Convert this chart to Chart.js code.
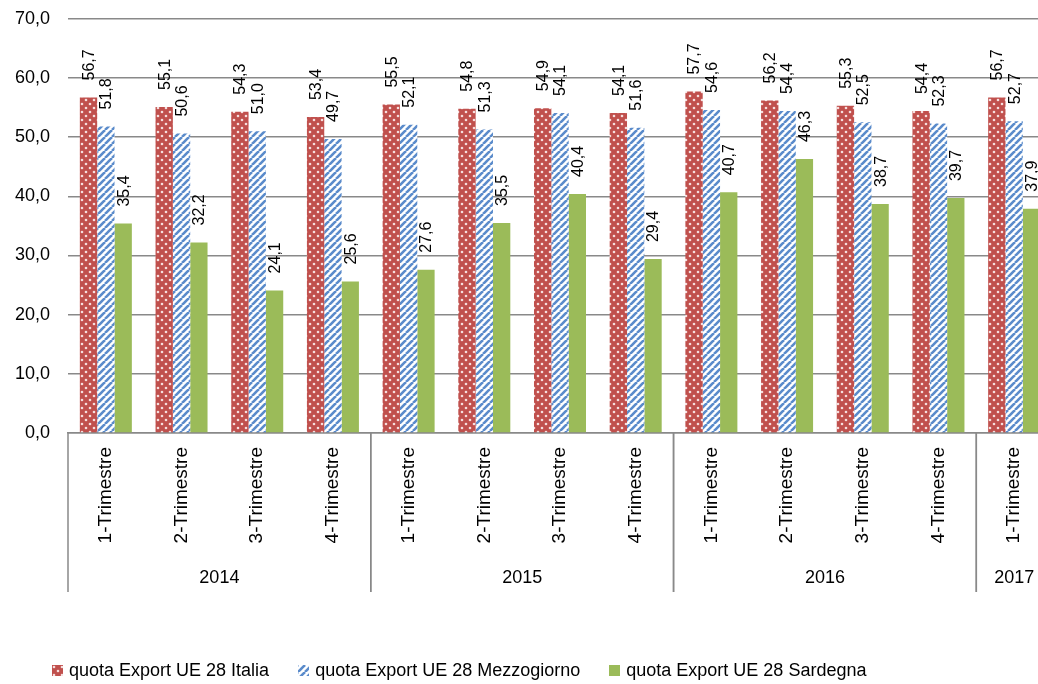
<!DOCTYPE html>
<html>
<head>
<meta charset="utf-8">
<script src="https://cdn.jsdelivr.net/npm/chart.js@4.4.0/dist/chart.umd.min.js"></script>
<style>
html, body { margin: 0; padding: 0; background: #fff; overflow: hidden; }
#wrap { position: relative; width: 1038px; height: 684px; overflow: hidden; }
#c { position: absolute; left: 0; top: -10px; }
#legend { position: absolute; left: 52px; top: 660px; display: flex; align-items: center;
  font: 18px "Liberation Sans", Arial, sans-serif; color: #000; white-space: nowrap; }
#legend .item { display: flex; align-items: center; margin-right: 29px; }
#legend canvas { width: 11px; height: 11px; margin-right: 6px; }
</style>
</head>
<body>
<div id="wrap">
  <canvas id="c" width="1056" height="694"></canvas>
  <div id="legend"></div>
</div>
<script>
// data
const categories = [
  '1-Trimestre', '2-Trimestre', '3-Trimestre', '4-Trimestre',
  '1-Trimestre', '2-Trimestre', '3-Trimestre', '4-Trimestre',
  '1-Trimestre', '2-Trimestre', '3-Trimestre', '4-Trimestre',
  '1-Trimestre'
];
const years = ['2014', '2015', '2016', '2017'];
const quartersPerYear = [4, 4, 4, 1];
const italia      = [56.7, 55.1, 54.3, 53.4, 55.5, 54.8, 54.9, 54.1, 57.7, 56.2, 55.3, 54.4, 56.7];
const mezzogiorno = [51.8, 50.6, 51.0, 49.7, 52.1, 51.3, 54.1, 51.6, 54.6, 54.4, 52.5, 52.3, 52.7];
const sardegna    = [35.4, 32.2, 24.1, 25.6, 27.6, 35.5, 40.4, 29.4, 40.7, 46.3, 38.7, 39.7, 37.9];
const seriesNames = ['quota Export UE 28 Italia', 'quota Export UE 28 Mezzogiorno', 'quota Export UE 28 Sardegna'];
const yTicks = [0, 10, 20, 30, 40, 50, 60, 70];

const FONT = '"Liberation Sans", Arial, sans-serif';
const GRID = '#898989';
const fmt = v => Number(v).toFixed(1).replace('.', ',');

function dotPattern() {
  const c = document.createElement('canvas'); c.width = 8; c.height = 8;
  const g = c.getContext('2d');
  g.fillStyle = '#C0504D'; g.fillRect(0, 0, 8, 8);
  g.fillStyle = '#f6dede';
  [[2, 2], [6, 6]].forEach(([x, y]) => { g.beginPath(); g.arc(x, y, 1.3, 0, Math.PI * 2); g.fill(); });
  return g.createPattern(c, 'repeat');
}
function stripePattern() {
  const c = document.createElement('canvas'); c.width = 7; c.height = 7;
  const g = c.getContext('2d');
  g.fillStyle = '#ffffff'; g.fillRect(0, 0, 7, 7);
  g.strokeStyle = '#5A8BCB'; g.lineWidth = 2.6;
  for (let k = -1; k <= 1; k++) { g.beginPath(); g.moveTo(k * 7, 7); g.lineTo(k * 7 + 7, 0); g.stroke(); }
  return g.createPattern(c, 'repeat');
}
const fills = [dotPattern(), stripePattern(), '#9BBB59'];

// value labels, rotated, above each bar
const valueLabels = {
  id: 'valueLabels',
  afterDatasetsDraw(chart) {
    const ctx = chart.ctx;
    ctx.save();
    ctx.fillStyle = '#000';
    ctx.font = '16px ' + FONT;
    ctx.textAlign = 'left';
    ctx.textBaseline = 'middle';
    chart.data.datasets.forEach((ds, di) => {
      chart.getDatasetMeta(di).data.forEach((bar, i) => {
        ctx.save();
        ctx.translate(bar.x + 1, bar.y - 17);
        ctx.rotate(-Math.PI / 2);
        ctx.fillText(fmt(ds.data[i]), 0, 0);
        ctx.restore();
      });
    });
    ctx.restore();
  }
};

// year groups under the quarter labels
const yearGroups = {
  id: 'yearGroups',
  afterDraw(chart) {
    const ctx = chart.ctx, x = chart.scales.x, area = chart.chartArea;
    const half = (x.getPixelForValue(1) - x.getPixelForValue(0)) / 2;
    const top = area.bottom, bottom = area.bottom + 159;
    ctx.save();
    ctx.strokeStyle = GRID; ctx.lineWidth = 1.5;
    ctx.fillStyle = '#000'; ctx.font = '18px ' + FONT;
    ctx.textAlign = 'center'; ctx.textBaseline = 'middle';
    let start = 0;
    years.forEach((yr, k) => {
      const end = start + quartersPerYear[k] - 1;
      const x0 = x.getPixelForValue(start) - half, x1 = x.getPixelForValue(end) + half;
      [x0, x1].forEach(px => { ctx.beginPath(); ctx.moveTo(px, top); ctx.lineTo(px, bottom); ctx.stroke(); });
      ctx.fillText(yr, (x0 + x1) / 2, area.bottom + 145);
      start = end + 1;
    });
    ctx.restore();
  }
};

new Chart(document.getElementById('c'), {
  type: 'bar',
  data: {
    labels: categories,
    datasets: [italia, mezzogiorno, sardegna].map((d, i) => ({
      label: seriesNames[i], data: d, backgroundColor: fills[i], borderWidth: 0
    }))
  },
  options: {
    responsive: false, animation: false, devicePixelRatio: 1,
    layout: { padding: { top: 8, right: 4, left: 0, bottom: 0 } },
    datasets: { bar: { categoryPercentage: 0.687, barPercentage: 1 } },
    plugins: { legend: { display: false }, tooltip: { enabled: false } },
    scales: {
      x: {
        grid: { display: false, drawTicks: false },
        border: { display: true, color: GRID, width: 1.5 },
        ticks: { autoSkip: false, minRotation: 90, maxRotation: 90, padding: 14, color: '#000', font: { family: FONT, size: 19 } },
        afterFit(s) { s.height = 251; }
      },
      y: {
        min: yTicks[0], max: yTicks[yTicks.length - 1],
        grid: { color: GRID, lineWidth: 1.5, drawTicks: false },
        border: { display: false },
        ticks: { stepSize: 10, padding: 18, color: '#000', font: { family: FONT, size: 18 }, callback: v => fmt(v) },
        afterFit(s) { s.width = 68; }
      }
    }
  },
  plugins: [valueLabels, yearGroups]
});

// html legend
const legend = document.getElementById('legend');
seriesNames.forEach((name, i) => {
  const item = document.createElement('div'); item.className = 'item';
  const sw = document.createElement('canvas'); sw.width = 11; sw.height = 11;
  const g = sw.getContext('2d'); g.fillStyle = fills[i]; g.fillRect(0, 0, 11, 11);
  const t = document.createElement('span'); t.textContent = name;
  item.appendChild(sw); item.appendChild(t); legend.appendChild(item);
});
</script>
</body>
</html>
